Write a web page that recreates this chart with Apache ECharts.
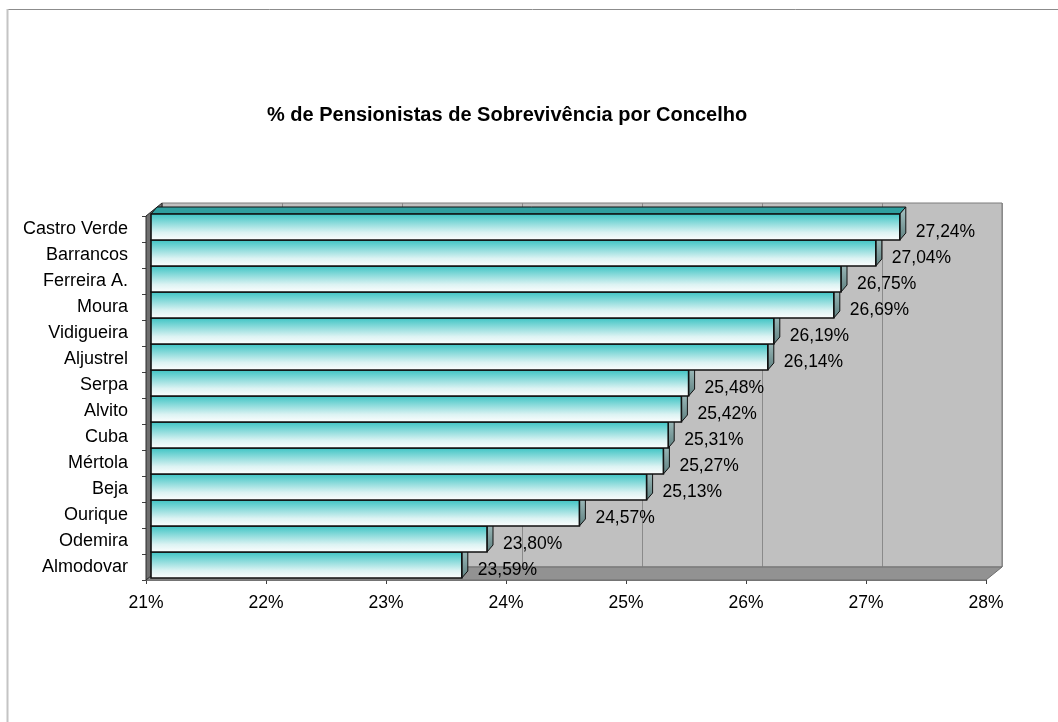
<!DOCTYPE html>
<html><head><meta charset="utf-8">
<script src="https://cdn.jsdelivr.net/npm/echarts@6/dist/echarts.min.js"></script>
<style>html,body{margin:0;padding:0;background:#fff}#c{width:1058px;height:722px}</style>
</head><body><div id="c"></div>
<script>
// ---- data ----
const categories = ['Castro Verde','Barrancos','Ferreira A.','Moura','Vidigueira','Aljustrel','Serpa','Alvito','Cuba','Mértola','Beja','Ourique','Odemira','Almodovar'];
const values = [27.24, 27.04, 26.75, 26.69, 26.19, 26.14, 25.48, 25.42, 25.31, 25.27, 25.13, 24.57, 23.80, 23.59];
const axisMin = 21, axisMax = 28, axisStep = 1;
const titleText = '% de Pensionistas de Sobrevivência por Concelho';

// ---- 3D look constants ----
const WDX = 16, WDY = -13;      // wall depth
const BOX = 5, BOY = -2;        // bar front-face shift
const BDX = 6, BDY = -7;        // bar depth
const FONT = '"Liberation Sans", Arial, sans-serif';

const fmt = v => v.toFixed(2).replace('.', ',') + '%';
const frontGrad = () => new echarts.graphic.LinearGradient(0, 0, 0, 1, [
  {offset: 0, color: '#38c2c2'}, {offset: 0.3, color: '#7ed7d7'},
  {offset: 0.7, color: '#dcf3f3'}, {offset: 1, color: '#ffffff'}]);
const sideGrad = () => new echarts.graphic.LinearGradient(0, 0, 0, 1, [
  {offset: 0, color: '#a9c6c6'}, {offset: 1, color: '#5d7f7f'}]);

function renderBar(params, api) {
  const v = api.value(0), idx = api.value(1);
  const pEnd = api.coord([v, idx]);
  const pStart = api.coord([axisMin, idx]);
  const h = api.size([0, 1])[1];
  const x0 = pStart[0] + BOX, x1 = pEnd[0] + BOX;
  const yT = pEnd[1] - h / 2 + BOY, yB = pEnd[1] + h / 2 + BOY;
  const z = 100 - idx * 3;
  return {type: 'group', children: [
    {type: 'polygon', z2: z,
      shape: {points: [[x0, yT], [x1, yT], [x1 + BDX, yT + BDY], [x0 + BDX, yT + BDY]]},
      style: {fill: '#2f9f9f', stroke: '#111', lineWidth: 1}},
    {type: 'polygon', z2: z,
      shape: {points: [[x1, yT], [x1 + BDX, yT + BDY], [x1 + BDX, yB + BDY], [x1, yB]]},
      style: {fill: sideGrad(), stroke: '#111', lineWidth: 1}},
    {type: 'rect', z2: z + 1,
      shape: {x: x0, y: yT, width: x1 - x0, height: yB - yT},
      style: {fill: frontGrad(), stroke: '#111', lineWidth: 1.6}},
    {type: 'text', z2: 500,
      style: {x: x1 + BDX + 10, y: pEnd[1] + 3, text: fmt(v), fill: '#000',
        fontSize: 17.5, fontFamily: FONT, align: 'left', verticalAlign: 'middle'}}
  ]};
}

function renderWalls(params, api) {
  const n = categories.length;
  const pTop = api.coord([axisMin, 0]), pBot = api.coord([axisMin, n - 1]);
  const pRight = api.coord([axisMax, n - 1]);
  const h = api.size([0, 1])[1];
  const yT = pTop[1] - h / 2, yB = pBot[1] + h / 2;
  const xL = pTop[0], xR = pRight[0];
  return {type: 'group', children: [
    {type: 'polygon', shape: {points: [[xL, yB], [xR, yB], [xR + WDX, yB + WDY], [xL + WDX, yB + WDY]]},
      style: {fill: '#929292', stroke: '#6e6e6e', lineWidth: 1}},
    {type: 'polygon', shape: {points: [[xL, yT], [xL + WDX, yT + WDY], [xL + WDX, yB + WDY], [xL, yB]]},
      style: {fill: '#6f6f6f', stroke: '#2a2a2a', lineWidth: 1}}
  ]};
}

const chart = echarts.init(document.getElementById('c'), null, {renderer: 'canvas'});
chart.setOption({
  backgroundColor: '#fff',
  animation: false,
  title: {text: titleText, left: 262, top: 100,
    textStyle: {fontFamily: FONT, fontSize: 20, fontWeight: 'bold', color: '#000'}},
  graphic: [
    {type: 'line', shape: {x1: 7, y1: 9.5, x2: 1058, y2: 9.5}, style: {stroke: '#8c8c8c', lineWidth: 1}},
    {type: 'line', shape: {x1: 7.5, y1: 9, x2: 7.5, y2: 722}, style: {stroke: '#c4c4c4', lineWidth: 2}}
  ],
  grid: [
    {left: 146, right: 72, top: 216, bottom: 142},
    {left: 146 + WDX, right: 72 - WDX, top: 216 + WDY, bottom: 142 - WDY, show: true,
      backgroundColor: '#c0c0c0', borderColor: '#7c7c7c', borderWidth: 1, z: 0}
  ],
  xAxis: [
    {type: 'value', gridIndex: 0, min: axisMin, max: axisMax, interval: axisStep,
      axisLine: {show: true, lineStyle: {color: '#7a7a7a'}},
      axisTick: {show: true, length: 4, lineStyle: {color: '#404040'}},
      axisLabel: {formatter: '{value}%', fontSize: 17.5, color: '#000', fontFamily: FONT, margin: 14},
      splitLine: {show: false}},
    {type: 'value', gridIndex: 1, min: axisMin, max: axisMax, interval: axisStep,
      axisLine: {show: false}, axisTick: {show: false}, axisLabel: {show: false},
      splitLine: {show: true, lineStyle: {color: '#8a8a8a', width: 1}}}
  ],
  yAxis: [
    {type: 'category', gridIndex: 0, data: categories, inverse: true,
      axisLine: {show: true, lineStyle: {color: '#333'}},
      axisTick: {show: true, length: 4, lineStyle: {color: '#404040'}},
      axisLabel: {fontSize: 18, color: '#000', fontFamily: FONT, margin: 18}},
    {type: 'category', gridIndex: 1, data: categories, inverse: true, show: false}
  ],
  series: [
    {type: 'custom', xAxisIndex: 0, yAxisIndex: 0, z: 1, silent: true,
      renderItem: renderWalls, data: [[axisMin, 0]]},
    {type: 'custom', xAxisIndex: 0, yAxisIndex: 0, z: 2,
      renderItem: renderBar,
      encode: {x: 0, y: 1},
      data: values.map((v, i) => [v, i])}
  ]
});
</script>
</body></html>
